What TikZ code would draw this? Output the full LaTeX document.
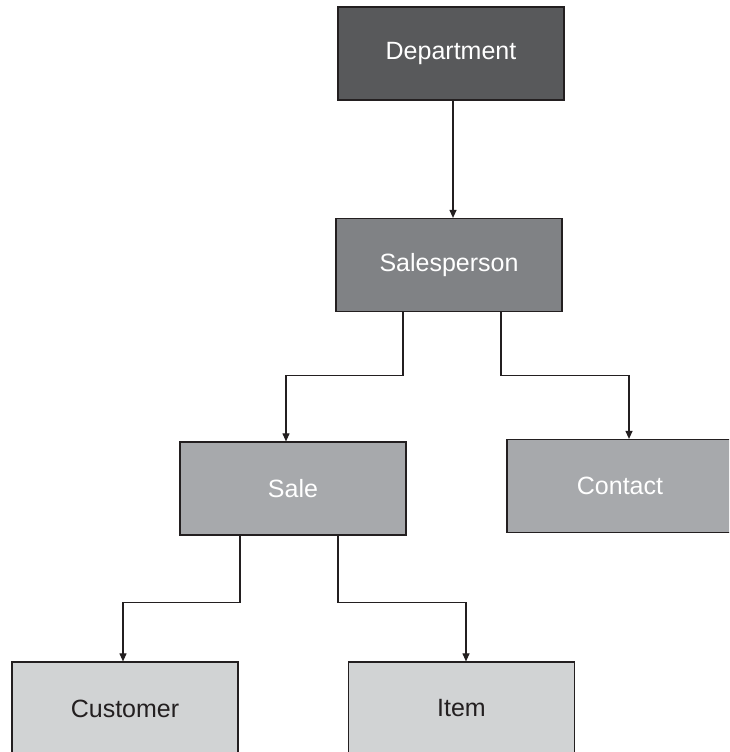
\documentclass[tikz,border=0pt]{standalone}
\usepackage{fontspec}
\setmainfont{Liberation Sans}
\usetikzlibrary{arrows.meta}
\definecolor{boxA}{HTML}{58595B}
\definecolor{boxB}{HTML}{808285}
\definecolor{boxC}{HTML}{A7A9AC}
\definecolor{boxD}{HTML}{D1D3D4}
\definecolor{inkline}{HTML}{231F20}
\tikzset{
  entity/.style={draw=inkline, line width=1.2pt, rectangle, minimum width=226pt,
    minimum height=93pt, inner sep=0pt, font=\fontsize{25}{30}\selectfont},
  lighttext/.style={text=white},
  darktext/.style={text=inkline},
  link/.style={draw=inkline, line width=1.1pt, -{Triangle[length=8pt,width=7pt]}},
}
\begin{document}
\begin{tikzpicture}[x=1pt,y=-1pt]
  \clip (0,0) rectangle (729,752);
  \fill[white] (0,0) rectangle (729,752);

  % entities
  \node[entity, lighttext, fill=boxA] (dept)     at (451,53.5)  {Department};
  \node[entity, lighttext, fill=boxB] (sales)    at (449,265)   {Salesperson};
  \node[entity, lighttext, fill=boxC] (sale)     at (293,488.5) {Sale};
  \node[entity, lighttext, fill=boxC] (contact)  at (620,486)   {Contact};
  \node[entity, darktext,  fill=boxD] (customer) at (125,708.5) {Customer};
  \node[entity, darktext,  fill=boxD] (item)     at (461.5,708.5) {Item};

  % relationships
  \draw[link] ([xshift=2pt]dept.south) -- ([xshift=2pt]dept.south |- sales.north);
  \draw[link] ([xshift=-46pt]sales.south) -- ++(0,63) -| ([xshift=-7pt]sale.north);
  \draw[link] ([xshift=52pt]sales.south) -- ++(0,63) -| ([xshift=9pt]contact.north);
  \draw[link] ([xshift=-53pt]sale.south) -- ++(0,67) -| ([xshift=-2pt]customer.north);
  \draw[link] ([xshift=45pt]sale.south) -- ++(0,67) -| ([xshift=4.5pt]item.north);
\end{tikzpicture}
\end{document}
